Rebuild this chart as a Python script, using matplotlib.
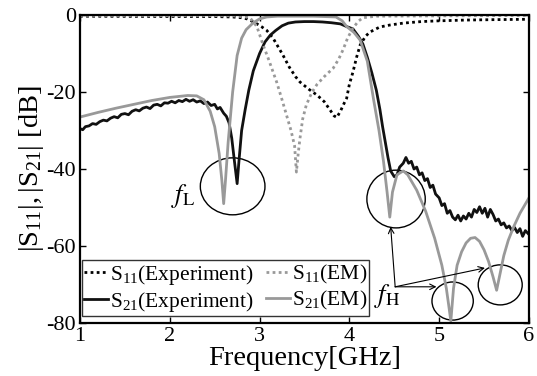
import matplotlib
matplotlib.use("Agg")
import matplotlib.pyplot as plt
from matplotlib.patches import Ellipse

plt.rcParams['font.family'] = ['Liberation Serif', 'DejaVu Serif']
plt.rcParams['mathtext.fontset'] = 'stix'
plt.rcParams['axes.unicode_minus'] = False

# S21, EM simulation
f_s21_em = [1.0, 1.2, 1.4, 1.6, 1.8, 2.0, 2.2, 2.3, 2.38, 2.45, 2.5, 2.55, 2.58, 2.6,
            2.62, 2.65, 2.7, 2.75, 2.8, 2.85, 2.93, 3.0, 3.08, 3.2, 3.6, 3.85, 3.92,
            3.97, 4.05, 4.12, 4.2, 4.27, 4.33, 4.38, 4.42, 4.45, 4.48, 4.53, 4.6, 4.65,
            4.75, 4.85, 4.95, 5.03, 5.08, 5.11, 5.13, 5.16, 5.2, 5.25, 5.3, 5.35, 5.4,
            5.45, 5.5, 5.55, 5.6, 5.64, 5.68, 5.72, 5.77, 5.83, 5.9, 6.0]
s21_em = [-26.5, -25.3, -24.2, -23.2, -22.2, -21.4, -20.9, -21.0, -22.0, -25.0, -29.0,
          -36.0, -43.0, -49.0, -43.0, -33.0, -20.0, -10.5, -6.0, -3.8, -2.0, -1.0, -0.5,
          -0.3, -0.3, -0.5, -1.5, -3.0, -4.5, -6.5, -12.0, -22.0, -30.0, -38.0, -46.0,
          -52.5, -46.0, -41.5, -40.5, -41.5, -45.5, -51.0, -58.0, -65.0, -71.0, -76.0,
          -79.5, -71.0, -65.0, -61.5, -59.2, -58.0, -57.8, -58.8, -61.0, -64.0, -68.0,
          -71.5, -67.0, -62.5, -58.5, -55.0, -51.5, -47.5]

# S21, measured
f_s21_ex = [1.0, 1.03, 1.06, 1.1, 1.14, 1.18, 1.22, 1.26, 1.3, 1.34, 1.38, 1.42, 1.46,
            1.5, 1.54, 1.58, 1.62, 1.66, 1.7, 1.74, 1.78, 1.82, 1.86, 1.9, 1.94, 1.98,
            2.02, 2.06, 2.1, 2.14, 2.18, 2.22, 2.26, 2.3, 2.34, 2.38, 2.42, 2.46, 2.5,
            2.53, 2.56, 2.6, 2.63, 2.66, 2.69, 2.72, 2.75, 2.77, 2.8, 2.84, 2.88, 2.93,
            3.0, 3.06, 3.12, 3.18, 3.25, 3.32, 3.4, 3.5, 3.6, 3.7, 3.8, 3.9, 3.97, 4.04,
            4.1, 4.15, 4.2, 4.25, 4.3, 4.34, 4.37, 4.4, 4.43, 4.46, 4.5, 4.53, 4.56, 4.6,
            4.63, 4.66, 4.69, 4.72, 4.75, 4.78, 4.81, 4.84, 4.87, 4.9, 4.93, 4.96, 5.0,
            5.03, 5.06, 5.09, 5.12, 5.15, 5.18, 5.21, 5.24, 5.27, 5.3, 5.33, 5.36, 5.39,
            5.42, 5.45, 5.48, 5.51, 5.54, 5.57, 5.6, 5.63, 5.66, 5.69, 5.72, 5.75, 5.78,
            5.81, 5.84, 5.87, 5.9, 5.93, 5.96, 6.0]
s21_ex = [-29.5, -29.8, -29.0, -28.8, -28.2, -28.4, -27.7, -27.3, -27.5, -26.8, -26.4,
          -26.7, -25.8, -25.6, -25.9, -25.0, -24.6, -24.9, -24.2, -23.9, -24.3, -23.4,
          -23.2, -23.6, -22.8, -22.9, -22.4, -22.8, -22.2, -22.5, -21.9, -22.4, -22.0,
          -22.6, -22.3, -23.0, -22.6, -23.5, -23.2, -24.4, -24.0, -25.5, -26.3, -28.0,
          -32.0, -38.0, -43.8, -38.0, -30.0, -24.5, -19.5, -14.5, -10.0, -7.0, -5.2,
          -4.0, -2.8, -2.1, -1.8, -1.7, -1.7, -1.8, -2.0, -2.3, -3.0, -3.6, -5.5, -7.5,
          -11.0, -15.0, -19.5, -24.5, -29.0, -33.0, -37.0, -40.5, -42.0, -41.5, -39.5,
          -38.5, -37.0, -38.5, -38.0, -40.0, -39.5, -41.5, -41.0, -43.0, -42.5, -44.8,
          -44.2, -46.5, -47.5, -49.5, -49.0, -51.5, -50.8, -52.5, -53.2, -52.0, -53.5,
          -52.2, -53.0, -51.5, -52.5, -50.5, -51.3, -49.8, -51.5, -50.2, -52.5, -50.5,
          -51.8, -53.5, -53.0, -54.5, -54.0, -55.3, -54.8, -56.0, -55.2, -56.5, -55.5,
          -57.5, -56.0, -57.0]

# S11, measured
f_s11_ex = [1.0, 2.5, 2.7, 2.8, 2.86, 2.95, 3.02, 3.08, 3.15, 3.2, 3.26, 3.33, 3.4, 3.45,
            3.55, 3.64, 3.72, 3.78, 3.83, 3.86, 3.9, 3.94, 3.97, 4.0, 4.04, 4.08, 4.12,
            4.18, 4.23, 4.34, 4.45, 4.6, 4.8, 5.0, 5.3, 5.6, 6.0]
s11_ex = [-0.3, -0.4, -0.5, -0.7, -1.0, -2.0, -3.0, -4.0, -6.0, -8.0, -10.4, -13.5,
          -16.0, -17.4, -19.3, -20.8, -22.5, -24.5, -26.2, -26.6, -25.0, -23.0, -21.6,
          -18.0, -14.8, -11.0, -7.8, -5.5, -4.4, -3.1, -2.6, -2.1, -1.7, -1.5, -1.3,
          -1.2, -1.1]

# S11, EM simulation
f_s11_em = [1.0, 2.7, 2.85, 2.9, 2.97, 3.04, 3.1, 3.19, 3.25, 3.3, 3.35, 3.39, 3.41,
            3.43, 3.45, 3.48, 3.52, 3.58, 3.64, 3.72, 3.82, 3.88, 3.93, 3.98, 4.04, 4.1,
            4.15, 4.3, 6.0]
s11_em = [-0.1, -0.2, -0.5, -0.9, -3.0, -7.8, -11.5, -17.4, -22.0, -26.0, -30.0, -34.0,
          -40.8, -36.0, -32.0, -27.0, -23.4, -20.2, -18.0, -16.0, -13.8, -11.5, -9.0,
          -6.0, -3.4, -1.6, -0.7, -0.3, -0.1]

grey = '#999999'

fig = plt.figure(figsize=(5.37, 3.76), dpi=100)
ax = fig.add_axes([0.149, 0.141, 0.836, 0.819])

l1, = ax.plot(f_s11_ex, s11_ex, color='black', lw=2.0, ls=(0, (1, 1.2)),
              label=r'$\mathregular{S_{11}}$(Experiment)')
l2, = ax.plot(f_s21_ex, s21_ex, color='#111111', lw=2.0,
              label=r'$\mathregular{S_{21}}$(Experiment)')
l3, = ax.plot(f_s11_em, s11_em, color=grey, lw=2.0, ls=(0, (1, 1.2)),
              label=r'$\mathregular{S_{11}}$(EM)')
l4, = ax.plot(f_s21_em, s21_em, color=grey, lw=2.0,
              label=r'$\mathregular{S_{21}}$(EM)')

# circles marking the transmission zeros
for cx, cy, w, h in [(2.70, -44.5, 0.72, 14.8), (4.52, -47.8, 0.65, 15.0),
                     (5.15, -74.3, 0.46, 9.9), (5.68, -70.1, 0.49, 10.4)]:
    ax.add_patch(Ellipse((cx, cy), w, h, fill=False, color='black', lw=1.0, clip_on=False))

ax.text(2.15, -47, r'$f_{\mathrm{L}}$', fontsize=19, ha='center', va='center')
ax.text(4.42, -73, r'$f_{\mathrm{H}}$', fontsize=19, ha='center', va='center')
for tx, ty in [(4.46, -55), (4.97, -70.6), (5.51, -65.7)]:
    ax.annotate('', xy=(tx, ty), xytext=(4.51, -70.6),
                arrowprops=dict(arrowstyle='->', color='black', lw=0.8,
                                shrinkA=0, shrinkB=0))

ax.set_xlim(1, 6)
ax.set_ylim(-80, 0)
ax.set_xticks([1, 2, 3, 4, 5, 6])
ax.set_yticks([-80, -60, -40, -20, 0])
ax.tick_params(direction='in', top=True, right=True, labelsize=16, length=4, width=1,
               pad=3)
for s in ax.spines.values():
    s.set_linewidth(1.6)

ax.set_xlabel('Frequency[GHz]', fontsize=20.5, labelpad=0)
ax.set_ylabel(r'$\mathregular{|S_{11}|,|S_{21}|}$ [dB]', fontsize=20.5, labelpad=0)

leg = ax.legend(handles=[l1, l2, l3, l4], ncol=2, loc='lower left',
                bbox_to_anchor=(0.004, 0.023), fontsize=15.5, frameon=True,
                fancybox=False, edgecolor='black', handlelength=1.1,
                handletextpad=0.1, columnspacing=0.6, borderpad=0.1,
                labelspacing=0.15, borderaxespad=0)
leg.get_frame().set_linewidth(1.0)

fig.savefig('out.png', dpi=100)
